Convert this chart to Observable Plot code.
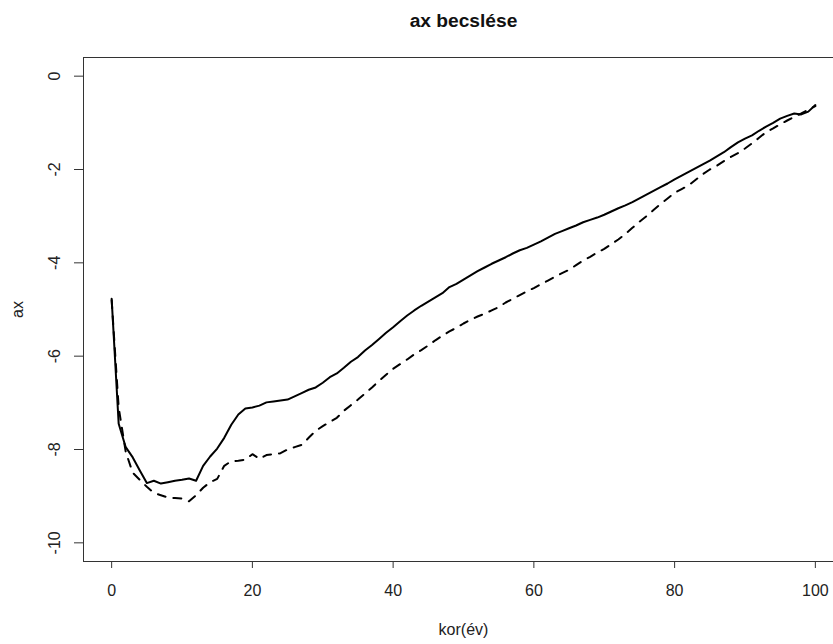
<!DOCTYPE html>
<html>
<head>
<meta charset="utf-8">
<script src="https://cdn.jsdelivr.net/npm/d3@7"></script>
<script src="https://cdn.jsdelivr.net/npm/@observablehq/plot@0.6"></script>
<style>
  html, body { margin: 0; padding: 0; background: white; overflow: hidden; }
  #wrap { width: 833px; height: 644px; overflow: hidden; }
  #wrap svg { max-width: none !important; }
</style>
</head>
<body>
<div id="wrap"></div>
<script>
const title = "ax becslése";
const xLabel = "kor(év)";
const yLabel = "ax";
const xTicks = [0, 20, 40, 60, 80, 100];
const yTicks = [0, -2, -4, -6, -8, -10];

const ages = d3.range(0, 101);
const axSolid = [
  -4.77, -7.45, -7.95, -8.17, -8.45, -8.72, -8.67, -8.73, -8.70, -8.67,
  -8.65, -8.62, -8.67, -8.35, -8.15, -7.98, -7.75, -7.47, -7.25, -7.12,
  -7.10, -7.06, -6.99, -6.97, -6.95, -6.93, -6.86, -6.79, -6.72, -6.67,
  -6.57, -6.45, -6.37, -6.25, -6.12, -6.02, -5.88, -5.76, -5.63, -5.50,
  -5.38, -5.25, -5.13, -5.02, -4.92, -4.83, -4.74, -4.65, -4.52, -4.45,
  -4.36, -4.27, -4.18, -4.10, -4.02, -3.95, -3.88, -3.80, -3.73, -3.68,
  -3.61, -3.54, -3.46, -3.38, -3.32, -3.26, -3.20, -3.13, -3.08, -3.03,
  -2.97, -2.90, -2.83, -2.77, -2.70, -2.62, -2.54, -2.46, -2.38, -2.30,
  -2.21, -2.13, -2.05, -1.97, -1.89, -1.81, -1.72, -1.63, -1.52, -1.42,
  -1.34, -1.27, -1.17, -1.08, -1.00, -0.91, -0.85, -0.80, -0.82, -0.76,
  -0.62
];
const axDashed = [
  -4.80, -7.10, -8.05, -8.50, -8.65, -8.80, -8.93, -8.98, -9.03, -9.04,
  -9.05, -9.11, -8.98, -8.82, -8.70, -8.63, -8.35, -8.25, -8.24, -8.22,
  -8.10, -8.20, -8.12, -8.10, -8.08, -8.00, -7.95, -7.90, -7.75, -7.60,
  -7.50, -7.41, -7.32, -7.17, -7.05, -6.93, -6.80, -6.67, -6.53, -6.40,
  -6.27, -6.17, -6.07, -5.96, -5.87, -5.77, -5.66, -5.56, -5.47, -5.39,
  -5.30, -5.22, -5.15, -5.09, -5.02, -4.95, -4.85, -4.77, -4.69, -4.61,
  -4.54, -4.46, -4.38, -4.30, -4.22, -4.15, -4.05, -3.95, -3.87, -3.78,
  -3.70, -3.60, -3.50, -3.38, -3.25, -3.12, -3.00, -2.87, -2.74, -2.62,
  -2.50, -2.42, -2.34, -2.22, -2.10, -2.00, -1.92, -1.82, -1.73, -1.65,
  -1.55, -1.44, -1.32, -1.20, -1.12, -1.03, -0.95, -0.87, -0.80, -0.72,
  -0.64
];

const solidData = ages.map((a, i) => ({age: a, ax: axSolid[i]}));
const dashedData = ages.map((a, i) => ({age: a, ax: axDashed[i]}));

const font = "'Liberation Sans', Arial, Helvetica, sans-serif";

const chart = Plot.plot({
  width: 844,
  height: 644,
  marginLeft: 83,
  marginRight: 1,
  marginTop: 57,
  marginBottom: 83,
  style: {fontFamily: font, fontSize: "16px", background: "white", color: "#222", overflow: "visible", maxWidth: "none"},
  x: {domain: [-4, 104], axis: null},
  y: {domain: [-10.4, 0.4], axis: null},
  marks: [
    Plot.frame({stroke: "#333", strokeWidth: 1}),
    Plot.axisX({ticks: xTicks, tickSize: 7, tickPadding: 16, tickFormat: d => String(d), label: null, stroke: "#333", fontSize: 16, fill: "#222"}),
    Plot.axisY({ticks: yTicks, tickSize: 9, text: null, label: null, stroke: "#333"}),
    Plot.text(yTicks, {y: d => d, text: d => String(d), frameAnchor: "left", dx: -29, rotate: -90, textAnchor: "middle", lineAnchor: "middle", fontSize: 16, fill: "#222"}),
    Plot.text([yLabel], {frameAnchor: "left", dx: -60.5, rotate: -90, textAnchor: "middle", lineAnchor: "bottom", fontSize: 16, fill: "#222"}),
    Plot.text([xLabel], {frameAnchor: "bottom", dy: 73.5, textAnchor: "middle", lineAnchor: "bottom", fontSize: 16, fill: "#222"}),
    Plot.text([title], {frameAnchor: "top", dy: -31, textAnchor: "middle", lineAnchor: "bottom", fontSize: 19.2, fontWeight: "bold", fill: "#111"}),
    Plot.line(dashedData, {x: "age", y: "ax", stroke: "black", strokeWidth: 2, strokeDasharray: "8,8"}),
    Plot.line(solidData, {x: "age", y: "ax", stroke: "black", strokeWidth: 2})
  ]
});
document.getElementById("wrap").appendChild(chart);
</script>
</body>
</html>
